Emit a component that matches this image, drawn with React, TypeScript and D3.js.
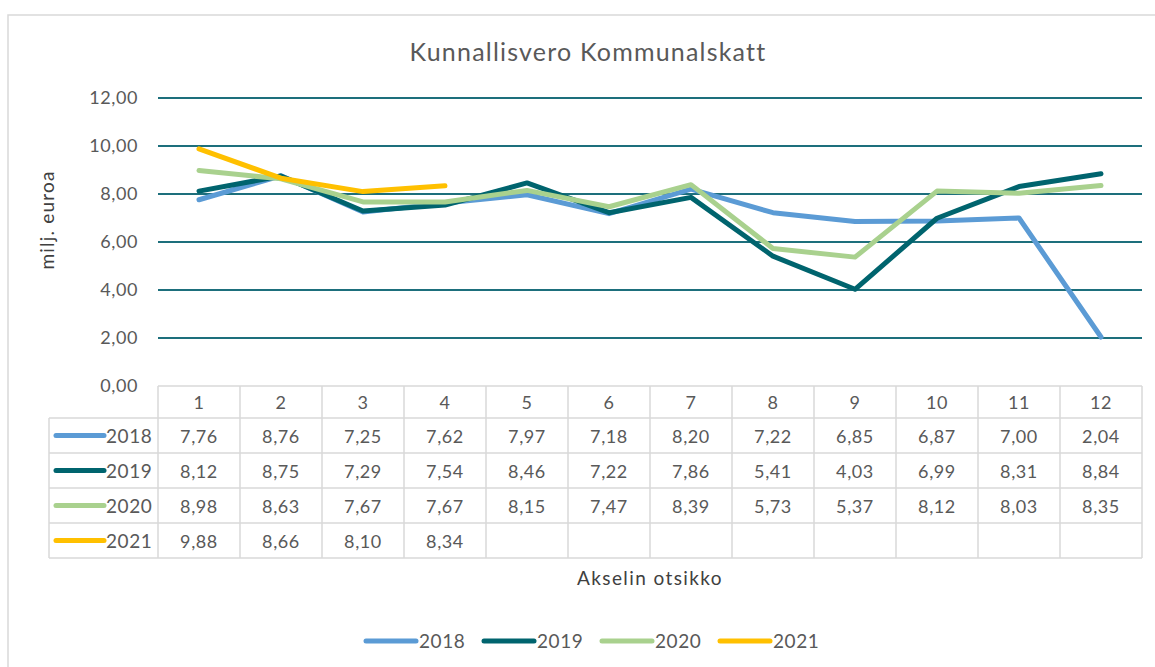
import React from "react";
import * as d3 from "d3";

const categories = ["1", "2", "3", "4", "5", "6", "7", "8", "9", "10", "11", "12"];
const seriesNames = ["2018", "2019", "2020", "2021"];
const s2018 = [7.76, 8.76, 7.25, 7.62, 7.97, 7.18, 8.2, 7.22, 6.85, 6.87, 7.0, 2.04];
const s2019 = [8.12, 8.75, 7.29, 7.54, 8.46, 7.22, 7.86, 5.41, 4.03, 6.99, 8.31, 8.84];
const s2020 = [8.98, 8.63, 7.67, 7.67, 8.15, 7.47, 8.39, 5.73, 5.37, 8.12, 8.03, 8.35];
const s2021: (number | null)[] = [9.88, 8.66, 8.1, 8.34, null, null, null, null, null, null, null, null];
const yTicks = [0, 2, 4, 6, 8, 10, 12];
const colors = ["#5B9BD5", "#00646E", "#A9D18E", "#FFC000"];

const allSeries = [s2018, s2019, s2020, s2021];

const W = 1155;
const H = 667;
const left = 158;
const right = 1142;
const top = 98;
const bottom = 386;
const font = "Lato, 'Open Sans', sans-serif";
const textCol = "#595959";
const gridCol = "#1D6F7C";
const tableCol = "#D9D9D9";
const ls = 0.6;

const fmt = (v: number) => v.toFixed(2).replace(".", ",");

export default function App() {
  const x = d3.scaleBand<string>().domain(categories).range([left, right]);
  const y = d3.scaleLinear().domain([0, 12]).range([bottom, top]);
  const line = d3
    .line<number | null>()
    .defined((d) => d !== null)
    .x((_, i) => (x(categories[i]) as number) + x.bandwidth() / 2)
    .y((d) => y(d as number));

  const headerBottom = 418;
  const rowH = 35;
  const rowTops = seriesNames.map((_, i) => headerBottom + i * rowH);
  const tableBottom = headerBottom + seriesNames.length * rowH;
  const tableLeft = 49;

  const legendXs = [366, 484, 602, 720];

  return (
    <svg
      width={W}
      height={H}
      style={{ position: "absolute", left: 0, top: 0, background: "#fff" }}
      fontFamily={font}
    >
      <rect x={8} y={15} width={1160} height={680} fill="#fff" stroke={tableCol} strokeWidth={1.5} />
      <text x={588} y={61} textAnchor="middle" fontSize={25} letterSpacing={1.2} fill={textCol}>
        Kunnallisvero Kommunalskatt
      </text>
      {yTicks.map((t) => (
        <g key={t}>
          {t > 0 && (
            <line x1={left} x2={right} y1={y(t)} y2={y(t)} stroke={gridCol} strokeWidth={2} />
          )}
          <text x={138} y={y(t) + 6} textAnchor="end" fontSize={18} letterSpacing={ls} fill={textCol}>
            {fmt(t)}
          </text>
        </g>
      ))}
      <text
        transform={`translate(54,220) rotate(-90)`}
        textAnchor="middle"
        fontSize={19}
        letterSpacing={1.2}
        fill="#404040"
      >
        milj. euroa
      </text>
      {allSeries.map((s, i) => (
        <path
          key={i}
          d={line(s as (number | null)[]) || ""}
          fill="none"
          stroke={colors[i]}
          strokeWidth={5}
          strokeLinejoin="round"
          strokeLinecap="round"
        />
      ))}
      {/* table */}
      <g stroke={tableCol} strokeWidth={1.5}>
        <line x1={left} x2={right} y1={bottom} y2={bottom} />
        <line x1={tableLeft} x2={right} y1={headerBottom} y2={headerBottom} />
        {rowTops.map((t, i) => (
          <line key={i} x1={tableLeft} x2={right} y1={t + rowH} y2={t + rowH} />
        ))}
        <line x1={tableLeft} x2={tableLeft} y1={headerBottom} y2={tableBottom} />
        {categories.map((c) => (
          <line key={c} x1={x(c)} x2={x(c)} y1={bottom} y2={tableBottom} />
        ))}
        <line x1={right} x2={right} y1={bottom} y2={tableBottom} />
      </g>
      {categories.map((c) => (
        <text
          key={c}
          x={(x(c) as number) + x.bandwidth() / 2}
          y={409}
          textAnchor="middle"
          fontSize={18}
          letterSpacing={ls}
          fill={textCol}
        >
          {c}
        </text>
      ))}
      {seriesNames.map((n, i) => (
        <g key={n}>
          <line
            x1={56}
            x2={104}
            y1={rowTops[i] + rowH / 2}
            y2={rowTops[i] + rowH / 2}
            stroke={colors[i]}
            strokeWidth={5}
            strokeLinecap="round"
          />
          <text x={106} y={rowTops[i] + rowH / 2 + 7} fontSize={19} letterSpacing={ls} fill={textCol}>
            {n}
          </text>
          {allSeries[i].map((v, j) =>
            v === null ? null : (
              <text
                key={j}
                x={(x(categories[j]) as number) + x.bandwidth() / 2}
                y={rowTops[i] + rowH / 2 + 7}
                textAnchor="middle"
                fontSize={18}
                letterSpacing={ls}
                fill={textCol}
              >
                {fmt(v)}
              </text>
            )
          )}
        </g>
      ))}
      <text x={650} y={585} textAnchor="middle" fontSize={19} letterSpacing={1.4} fill="#404040">
        Akselin otsikko
      </text>
      {seriesNames.map((n, i) => (
        <g key={n}>
          <line
            x1={legendXs[i]}
            x2={legendXs[i] + 50}
            y1={641}
            y2={641}
            stroke={colors[i]}
            strokeWidth={5}
            strokeLinecap="round"
          />
          <text x={legendXs[i] + 53} y={648} fontSize={19} letterSpacing={ls} fill={textCol}>
            {n}
          </text>
        </g>
      ))}
    </svg>
  );
}
